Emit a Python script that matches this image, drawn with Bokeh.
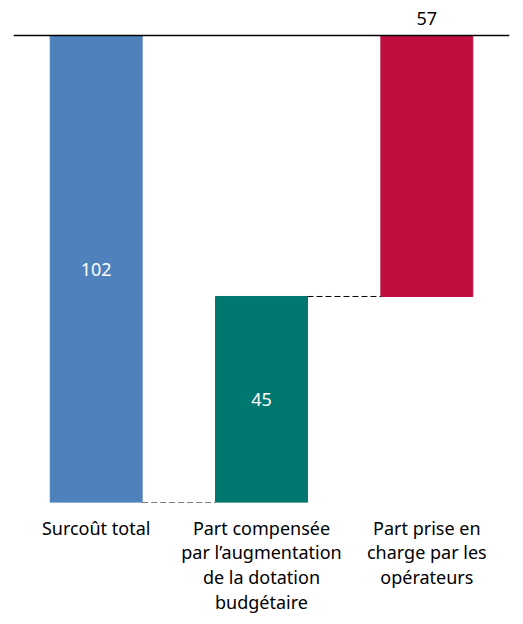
from bokeh.plotting import figure
from bokeh.models import Range1d, Span, ColumnDataSource
from bokeh.embed import file_html
from bokeh.resources import INLINE
from bokeh.core.properties import value

categories = ["Surcoût total",
              "Part compensée\npar l’augmentation\nde la dotation\nbudgétaire",
              "Part prise en\ncharge par les\nopérateurs"]
values = [102, 45, 57]
colors = ["#4F81BD", "#00776F", "#C10D3E"]
value_labels = ["102", "45", "57"]

total = values[0]
bottoms = [0, total - values[1], 0]
tops = [total, total, values[2]]

FONT = "Noto Sans"

p = figure(x_range=categories, y_range=Range1d(total, -5.9),
           frame_width=496, frame_height=494,
           min_border_left=13, min_border_right=6, min_border_top=8, min_border_bottom=0,
           output_backend="svg", toolbar_location=None)
p.outline_line_color = None
p.grid.visible = False
p.yaxis.visible = False
p.background_fill_color = "white"

src = ColumnDataSource(dict(x=categories, bottom=bottoms, top=tops, color=colors))
p.vbar(x="x", bottom="bottom", top="top", width=0.556, color="color", source=src)

p.add_layout(Span(location=0, dimension="width", line_color="black", line_width=1.3))

# dashed connectors
w = 0.556 / 2
p.segment(x0=[(categories[0], w)], y0=[tops[0]], x1=[(categories[1], -w)], y1=[tops[1]],
          line_color="black", line_width=1, line_dash="6 3")
p.segment(x0=[(categories[1], w)], y0=[bottoms[1]], x1=[(categories[2], -w)], y1=[tops[2]],
          line_color="black", line_width=1, line_dash="6 3")

# value labels
lab_y = [(bottoms[0] + tops[0]) / 2, (bottoms[1] + tops[1]) / 2, -3.7]
p.text(x=categories, y=lab_y, text=value_labels,
       text_color=["white", "white", "black"],
       text_align="center", text_baseline="middle",
       text_font=value(FONT), text_font_size="18px")

ax = p.xaxis[0]
ax.axis_line_color = None
ax.major_tick_line_color = None
ax.minor_tick_line_color = None
ax.major_label_standoff = 7
ax.major_label_text_font = FONT
ax.major_label_text_font_size = "18px"
ax.major_label_text_color = "black"
ax.major_label_text_line_height = 1.03
ax.major_label_orientation = "horizontal"

open("out.html", "w").write(file_html(p, INLINE))
